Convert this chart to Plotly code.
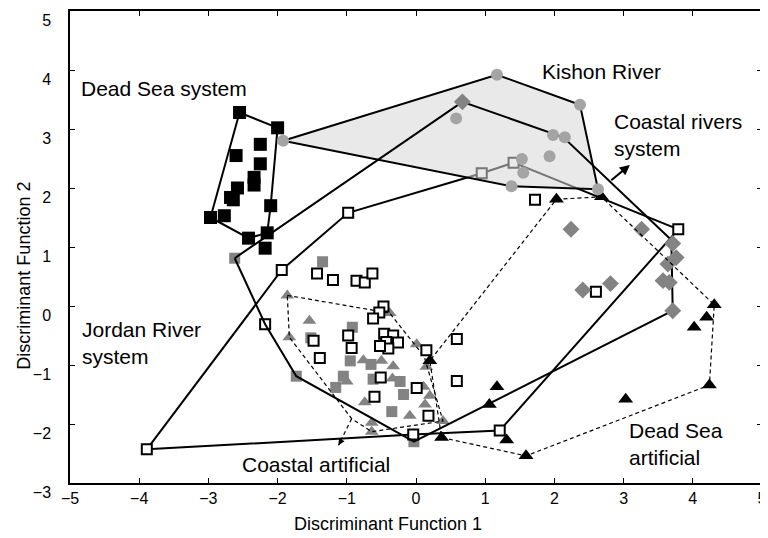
import plotly.graph_objects as go

# ---------------- data ----------------
# Dead Sea system (black squares)
ds_sys_x = [-2.55, -2.00, -2.25, -2.60, -2.25, -2.34, -2.34, -2.58, -2.68, -2.64, -2.10, -2.97, -2.77, -2.42, -2.15, -2.18]
ds_sys_y = [3.28, 3.02, 2.74, 2.55, 2.41, 2.18, 2.05, 2.00, 1.84, 1.80, 1.70, 1.50, 1.53, 1.15, 1.24, 0.98]
ds_sys_hull_x = [-2.97, -2.55, -2.00, -2.10, -2.15, -2.42, -2.97]
ds_sys_hull_y = [1.50, 3.28, 3.02, 1.70, 1.24, 1.15, 1.50]

# Kishon River (grey circles)
kishon_x = [1.17, 2.37, 0.58, -1.92, 1.98, 2.15, 1.93, 1.53, 1.55, 1.38, 2.63]
kishon_y = [3.92, 3.41, 3.18, 2.80, 2.90, 2.86, 2.54, 2.49, 2.26, 2.03, 1.98]
kishon_hull_x = [-1.92, 1.17, 2.37, 2.63, 1.38, -1.92]
kishon_hull_y = [2.80, 3.92, 3.41, 1.98, 2.03, 2.80]

# Coastal rivers system (grey diamonds and grey squares)
cr_diam_x = [0.67, 2.24, 3.26, 3.71, 3.76, 3.64, 3.57, 3.66, 2.81, 2.41, 3.71]
cr_diam_y = [3.46, 1.30, 1.30, 1.06, 0.82, 0.71, 0.43, 0.40, 0.38, 0.27, -0.08]
cr_sq_x = [-2.62, -1.35, -1.73, -2.18, -0.03, -0.92, -1.52, -0.95, -0.65, -1.05, -1.16, -0.62, -0.23, -0.18, -0.35]
cr_sq_y = [0.81, 0.75, -1.19, -0.31, -2.30, -0.36, -0.54, -0.93, -0.99, -1.19, -1.38, -1.24, -1.28, -1.50, -1.79]
cr_hull_x = [-2.62, 0.67, 2.13, 3.69, 3.71, -0.03, -1.73, -2.18, -2.62]
cr_hull_y = [0.81, 3.46, 2.86, 1.12, -0.08, -2.30, -1.19, -0.31, 0.81]

# Jordan River system (open squares)
jordan_x = [-3.89, -2.18, -1.94, -1.43, -1.20, -0.86, -0.74, -0.63, -0.98, -0.47, -0.53, -0.62,
            -1.48, -0.98, -0.93, -1.39, -0.46, -0.33, -0.26, -0.43, -0.40, -0.52, 0.15, 0.59,
            0.59, -0.51, 0.01, -0.60, 0.18, -0.04, 1.21, 0.95, 1.41, 1.72, 3.79, 2.60]
jordan_y = [-2.43, -0.31, 0.61, 0.55, 0.44, 0.43, 0.40, 0.55, 1.58, -0.01, -0.11, -0.21,
            -0.59, -0.50, -0.71, -0.88, -0.47, -0.50, -0.62, -0.61, -0.72, -0.68, -0.75, -0.56,
            -1.27, -1.21, -1.39, -1.54, -1.86, -2.18, -2.11, 2.25, 2.43, 1.80, 1.30, 0.24]
jordan_hull_x = [-3.89, -1.94, -0.98, 0.95, 1.41, 3.79, 1.21, -0.04, -3.89]
jordan_hull_y = [-2.43, 0.61, 1.58, 2.25, 2.43, 1.30, -2.11, -2.18, -2.43]

# Coastal artificial (grey triangles)
ca_x = [-1.86, -1.54, -1.83, -0.76, -0.50, -0.33, -1.00, -0.34, -0.74, -0.09, -0.64, -0.64,
        0.13, 0.01, 0.15, 0.20, 0.39, 0.11, -0.38]
ca_y = [0.18, -0.25, -0.53, -0.92, -0.93, -1.02, -1.28, -1.23, -1.63, -1.86, -1.98, -2.13,
        -1.67, -0.65, -1.03, -1.52, -1.95, -1.37, -0.12]
ca_hull_x = [-1.86, -0.38, 0.12, 0.39, -0.64, -0.93, -1.83, -1.86]
ca_hull_y = [0.18, -0.12, -0.86, -1.95, -2.13, -1.91, -0.53, 0.18]

# Dead Sea artificial (black triangles)
dsa_x = [2.03, 2.68, 4.31, 4.20, 4.02, 4.24, 3.03, 1.17, 1.06, 1.31, 1.59, 0.37, 0.20]
dsa_y = [1.81, 1.85, 0.02, -0.19, -0.36, -1.34, -1.58, -1.37, -1.67, -2.27, -2.54, -2.23, -0.93]
dsa_hull_x = [2.03, 2.68, 4.31, 4.24, 1.59, 0.37, 0.20, 2.03]
dsa_hull_y = [1.81, 1.85, 0.02, -1.34, -2.54, -2.23, -0.93, 1.81]

# label arrows (tail, head)
ca_arrow_x = [-0.93, -1.12]
ca_arrow_y = [-1.91, -2.36]
cr_arrow_x = [2.80, 3.09]
cr_arrow_y = [2.11, 2.39]

tick_vals_x = [-5, -4, -3, -2, -1, 0, 1, 2, 3, 4, 5]
tick_vals_y = [-3, -2, -1, 0, 1, 2, 3, 4, 5]

# ---------------- styles ----------------
GREY = "#838383"
CIRC = "#a4a4a4"
FONT = "Arial, Liberation Sans, sans-serif"

fig = go.Figure()


def line_tr(x, y, dash=None, width=2.0, color="black"):
    fig.add_trace(go.Scatter(x=x, y=y, mode="lines",
                             line=dict(color=color, width=width, dash=dash),
                             hoverinfo="skip", showlegend=False))


def pts(x, y, symbol, size, color, lcolor=None, lwidth=0):
    fig.add_trace(go.Scatter(x=x, y=y, mode="markers",
                             marker=dict(symbol=symbol, size=size, color=color,
                                         line=dict(color=lcolor or color, width=lwidth)),
                             hoverinfo="skip", showlegend=False))


# grey markers underneath
pts(cr_sq_x, cr_sq_y, "square", 11, GREY)
pts(ca_x, ca_y, "triangle-up", 12, GREY)
line_tr(ca_hull_x, ca_hull_y, dash="4px,3px", width=1.2)

# Jordan River system
line_tr(jordan_hull_x, jordan_hull_y)
pts(jordan_x, jordan_y, "square", 10, "white", "black", 2)

# Kishon translucent fill (over Jordan elements)
fig.add_trace(go.Scatter(x=kishon_hull_x, y=kishon_hull_y, mode="lines", fill="toself",
                         fillcolor="rgba(215,215,215,0.55)", line=dict(width=0),
                         hoverinfo="skip", showlegend=False))

# Coastal rivers system
line_tr(cr_hull_x, cr_hull_y)
pts(cr_diam_x, cr_diam_y, "diamond", 13, GREY)

# Dead Sea artificial
line_tr(dsa_hull_x, dsa_hull_y, dash="4px,3px", width=1.2)
pts(dsa_x, dsa_y, "triangle-up", 13, "black")

# Dead Sea system
line_tr(ds_sys_hull_x, ds_sys_hull_y)
pts(ds_sys_x, ds_sys_y, "square", 13, "black")

# Kishon outline and points
line_tr(kishon_hull_x, kishon_hull_y)
pts(kishon_x, kishon_y, "circle", 12, CIRC)

# dashed pointer of "Coastal artificial"
line_tr(ca_arrow_x, ca_arrow_y, dash="4px,3px", width=1.2)

annotations = [
    dict(x=ca_arrow_x[1], y=ca_arrow_y[1], ax=4, ay=-7, xref="x", yref="y",
         showarrow=True, arrowhead=2, arrowsize=1, arrowwidth=1.3, arrowcolor="black", text=""),
    dict(x=cr_arrow_x[1], y=cr_arrow_y[1], ax=cr_arrow_x[0], ay=cr_arrow_y[0],
         xref="x", yref="y", axref="x", ayref="y",
         showarrow=True, arrowhead=2, arrowsize=1, arrowwidth=2, arrowcolor="black", text=""),
]

labels = [
    ("Dead Sea system", -4.87, 3.68),
    ("Kishon River", 1.79, 3.97),
    ("Coastal rivers<br>system", 2.83, 2.89),
    ("Jordan River<br>system", -4.86, -0.62),
    ("Coastal artificial", -2.54, -2.69),
    ("Dead Sea<br>artificial", 3.05, -2.34),
]
for txt, x, y in labels:
    annotations.append(dict(x=x, y=y, xref="x", yref="y", text=txt, showarrow=False,
                            xanchor="left", yanchor="middle", align="left",
                            font=dict(family=FONT, size=21, color="black")))

annotations.append(dict(x=0.46, y=-0.087, xref="paper", yref="paper",
                        text="Discriminant Function 1", showarrow=False,
                        xanchor="center", yanchor="middle",
                        font=dict(family=FONT, size=18, color="black")))
annotations.append(dict(x=-0.066, y=0.44, xref="paper", yref="paper",
                        text="Discriminant Function 2", showarrow=False, textangle=-90,
                        xanchor="center", yanchor="middle",
                        font=dict(family=FONT, size=18, color="black")))

axis_common = dict(showgrid=False, zeroline=False, showline=True, linecolor="black",
                   linewidth=1.5, mirror="ticks", ticks="inside", ticklen=5,
                   tickcolor="black", tickwidth=1.2, ticklabeloverflow="allow",
                   automargin=False,
                   tickfont=dict(family=FONT, size=16, color="black"))

# the page body adds an 8 px offset, so the figure is 8 px smaller and margins compensate
fig.update_layout(
    width=760, height=530,
    margin=dict(l=62, r=6, t=3, b=55, autoexpand=False),
    paper_bgcolor="white", plot_bgcolor="white",
    xaxis=dict(range=[-5, 5], tickvals=tick_vals_x, **axis_common),
    yaxis=dict(range=[-3, 5], tickvals=tick_vals_y, ticklabelshift=9,
               ticklabelstandoff=14, **axis_common),
    annotations=annotations,
    showlegend=False,
)

fig.write_html("out.html")
